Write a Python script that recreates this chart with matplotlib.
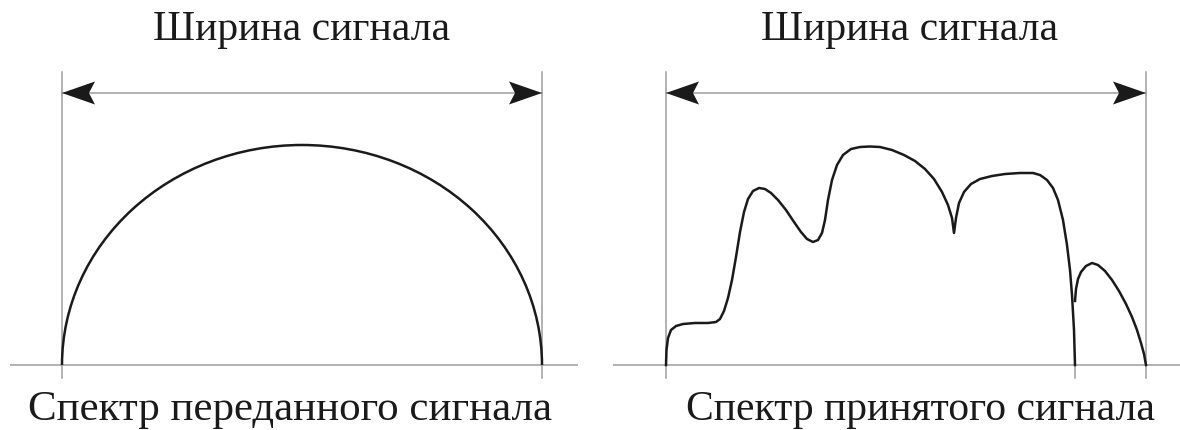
import matplotlib.pyplot as plt
from matplotlib.patches import Arc, Polygon

plt.rcParams['font.family'] = ['Liberation Serif', 'DejaVu Serif']

# частота и амплитуда в условных единицах (полоса 0..480, максимум передатчика 220)
BAND = (0, 480)
TX_PEAK = 220
RX_FREQ = [0, 0.5, 2, 5, 10, 17, 29, 42, 50, 54, 58, 62, 66, 70, 74, 78, 82, 87, 93, 99,
           105, 112, 120, 128, 135, 141, 147, 152, 156, 159, 162, 166, 171, 177, 185, 194,
           204, 214, 226, 238, 249, 259, 268, 276, 282, 286, 288, 290, 293, 298, 305, 314,
           326, 339, 354, 367, 374, 381, 387, 392, 397, 401, 404, 406, 408, 409]
RX_AMP = [0, 15, 27, 35, 39, 41, 42, 42, 43, 46, 54, 67, 85, 108, 133, 153, 166, 174, 177, 176,
          172, 165, 155, 143, 133, 126, 123, 125, 132, 145, 165, 185, 200, 210, 216, 218,
          218.5, 218, 215, 210, 204, 196, 186, 173, 160, 147, 132, 147, 162, 173, 181, 186,
          189, 191, 192, 192, 190, 185, 177, 165, 145, 120, 95, 70, 35, 0]
TAIL_FREQ = [409, 410, 412, 415, 420, 426, 432, 439, 446, 453, 460, 466, 471, 475, 478, 480]
TAIL_AMP = [64, 76, 86, 93, 99, 102, 100, 94, 85, 74, 61, 48, 35, 22, 11, 0]
CUT_FREQ = 409

TITLE = 'Ширина сигнала'
CAPTIONS = ['Спектр переданного сигнала', 'Спектр принятого сигнала']

GREY = '#9c9c9c'
INK = '#1a1a1a'
W, H = 1180, 430
Y0 = 365  # строка базовой линии, px


def make_axes(fig, left_px, right_px, band_left_px):
    ax = fig.add_axes([left_px / W, 0, (right_px - left_px) / W, 1])
    ax.set_xlim(left_px - band_left_px, right_px - band_left_px)
    ax.set_ylim(-(H - Y0), Y0)
    ax.axis('off')
    return ax


def arrow_head(ax, x_tip, y, d):
    L, hw, notch = 33, 11.5, 27
    pts = [(x_tip, y), (x_tip + d * L, y + hw), (x_tip + d * notch, y), (x_tip + d * L, y - hw)]
    ax.add_patch(Polygon(pts, closed=True, color=INK, lw=0, zorder=5))


def draw_frame(ax, caption, title_dx, caption_dx, caption_size):
    lo, hi = BAND
    mid = 0.5 * (lo + hi)
    ax.axhline(0, color=GREY, lw=1.1, zorder=1)
    for x in (lo, hi):
        ax.plot([x, x], [-13, 293], color=GREY, lw=1.1, zorder=1)
    ax.plot([lo, hi], [272, 272], color=GREY, lw=1.1, zorder=2)
    arrow_head(ax, lo, 272, 1)
    arrow_head(ax, hi, 272, -1)
    ax.text(mid + title_dx, 325, TITLE, ha='center', va='baseline', fontsize=30, color=INK)
    ax.text(mid + caption_dx, -55, caption, ha='center', va='baseline',
            fontsize=caption_size, color=INK)


fig = plt.figure(figsize=(W / 100, H / 100), dpi=100)
fig.patch.set_facecolor('white')

ax1 = make_axes(fig, 10, 578, 62)
draw_frame(ax1, CAPTIONS[0], 0, -12, 31)
ax1.add_patch(Arc((0.5 * (BAND[0] + BAND[1]), 0), BAND[1] - BAND[0], 2 * TX_PEAK,
                  theta1=0, theta2=180, color=INK, lw=1.8, zorder=3))

ax2 = make_axes(fig, 613, 1180, 666)
draw_frame(ax2, CAPTIONS[1], 4, 14, 30)
ax2.plot([CUT_FREQ, CUT_FREQ], [-13, 0], color=GREY, lw=1.1, zorder=1)
ax2.plot(RX_FREQ, RX_AMP, color=INK, lw=1.8, zorder=3, solid_joinstyle='round')
ax2.plot(TAIL_FREQ, TAIL_AMP, color=INK, lw=1.8, zorder=3, solid_joinstyle='round')

fig.savefig('out.png', dpi=100)
